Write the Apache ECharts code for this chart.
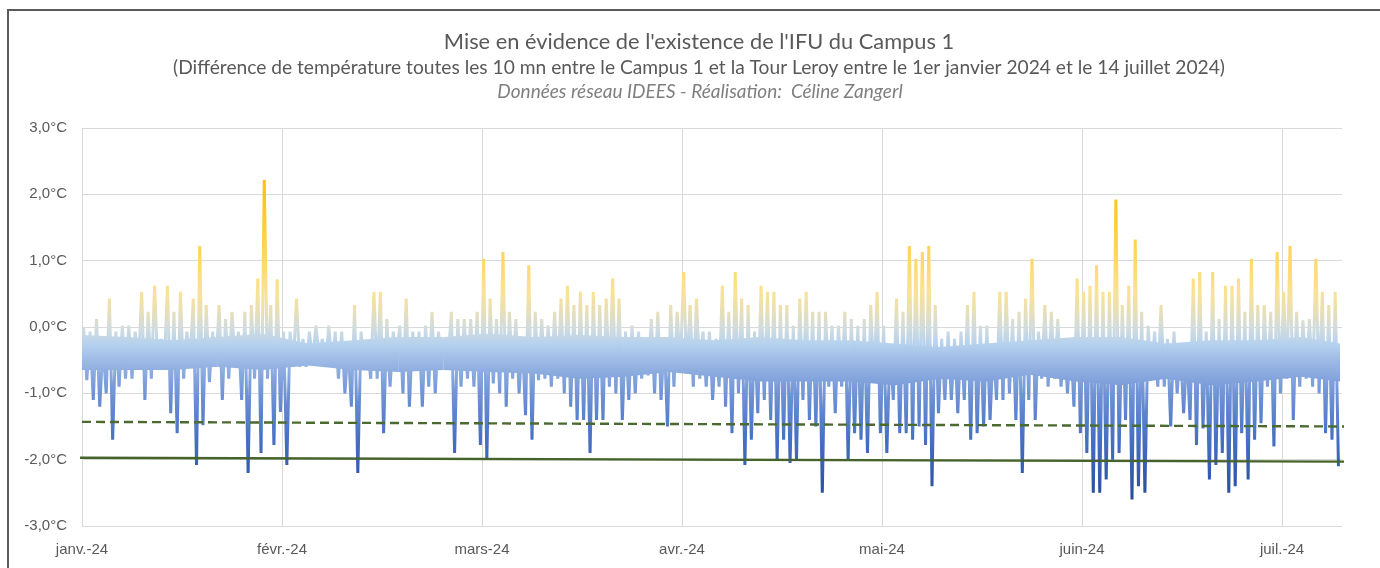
<!DOCTYPE html>
<html>
<head>
<meta charset="utf-8">
<script src="https://cdn.jsdelivr.net/npm/echarts@6/dist/echarts.min.js"></script>
<style>
  html, body { margin: 0; padding: 0; background: #ffffff; }
  #chart { width: 1380px; height: 568px; }
</style>
</head>
<body>
<div id="chart"></div>
<script>
// Month tick labels (one every 31 days from 1 January 2024)
const monthLabels = ['janv.-24', 'févr.-24', 'mars-24', 'avr.-24', 'mai-24', 'juin-24', 'juil.-24'];

// Daily upper envelope of the 10-minute temperature difference (°C), Campus 1 - Tour Leroy
const dayMax = [
  0.00, -0.07, 0.12, -0.28, 0.43, -0.07, 0.02, 0.02, -0.07, 0.53,
  0.23, 0.62, -0.18, 0.62, 0.23, 0.53, -0.07, 0.43, 1.22, 0.33,
  -0.07, 0.33, 0.12, 0.23, -0.07, 0.23, 0.33, 0.73, 2.22, 0.33,
  0.72, -0.07, -0.07, 0.43, -0.18, -0.07, 0.02, -0.18, 0.02, -0.07,
  -0.07, -0.28, 0.33, -0.07, -0.28, 0.53, 0.53, 0.12, -0.07, 0.02,
  0.43, -0.07, -0.07, 0.02, 0.23, -0.07, -0.18, 0.23, 0.12, 0.12,
  0.12, 0.23, 1.03, 0.43, 0.12, 1.13, 0.23, 0.12, -0.18, 0.93,
  0.23, 0.12, 0.02, 0.23, 0.43, 0.62, 0.33, 0.53, 0.33, 0.53,
  0.33, 0.43, 0.73, 0.43, -0.07, 0.02, -0.07, -0.18, 0.12, 0.23,
  -0.18, 0.33, 0.23, 0.83, 0.33, 0.43, -0.07, -0.07, -0.18, 0.62,
  0.23, 0.83, 0.43, 0.33, -0.07, 0.62, 0.53, 0.53, 0.33, 0.33,
  0.02, 0.43, 0.53, 0.23, 0.23, 0.23, 0.02, 0.02, 0.23, 0.12,
  0.02, 0.12, 0.33, 0.53, 0.02, -0.28, 0.43, 0.23, 1.22, 1.03,
  1.13, 1.22, 0.33, -0.18, -0.07, -0.18, -0.07, 0.33, 0.53, 0.02,
  0.02, -0.28, 0.53, 0.53, 0.12, 0.23, 0.43, 1.03, -0.07, 0.33,
  0.23, 0.12, -0.18, -0.18, 0.73, 0.53, 0.62, 0.93, 0.53, 0.53,
  1.92, 0.33, 0.62, 1.32, 0.23, 0.02, -0.07, 0.33, -0.18, -0.07,
  -0.28, -0.38, 0.73, 0.83, -0.07, 0.83, 0.12, 0.62, 0.62, 0.73,
  0.23, 1.03, 0.33, 0.33, 0.23, 1.13, 0.53, 1.22, 0.23, 0.10,
  0.12, 1.03, 0.53, 0.33, 0.53
];

// Daily lower envelope (°C)
const dayMin = [
  -0.80, -1.10, -1.20, -1.00, -1.70, -0.90, -0.78, -0.78, -0.60, -1.10,
  -0.78, -0.60, -0.60, -1.30, -1.60, -0.78, -0.50, -2.08, -1.48, -0.83,
  -0.60, -1.10, -0.78, -0.60, -1.10, -2.20, -0.78, -1.90, -0.78, -1.78,
  -1.28, -2.08, -0.60, -0.60, -0.60, -0.53, -0.43, -0.60, -0.60, -0.78,
  -1.00, -1.20, -2.20, -0.60, -0.78, -0.78, -1.60, -0.90, -0.50, -1.00,
  -1.20, -0.53, -1.20, -0.90, -1.00, -0.53, -0.53, -1.90, -0.90, -0.78,
  -0.90, -1.78, -2.00, -0.85, -1.00, -1.20, -0.78, -1.00, -1.33, -1.70,
  -0.80, -0.78, -0.90, -0.78, -1.00, -1.20, -1.40, -1.40, -1.90, -1.40,
  -1.40, -0.90, -1.00, -1.40, -1.10, -1.00, -0.78, -0.73, -1.00, -1.10,
  -1.50, -0.90, -0.60, -0.70, -0.90, -0.78, -0.90, -1.10, -0.90, -1.20,
  -1.60, -1.00, -2.08, -1.70, -1.30, -1.10, -1.40, -2.00, -1.70, -2.05,
  -2.00, -1.10, -1.40, -1.50, -2.50, -0.90, -1.30, -0.90, -2.00, -1.60,
  -1.70, -1.90, -0.83, -1.60, -1.90, -1.10, -1.60, -1.60, -1.70, -1.50,
  -1.78, -2.40, -1.30, -1.10, -1.10, -1.30, -1.10, -1.70, -1.60, -1.50,
  -1.40, -1.10, -1.10, -1.00, -1.40, -2.20, -1.10, -1.40, -0.78, -0.90,
  -0.78, -0.90, -1.00, -1.20, -1.60, -1.90, -2.50, -2.50, -2.30, -2.00,
  -1.90, -1.40, -2.60, -2.40, -2.50, -0.78, -0.90, -0.90, -1.50, -1.00,
  -1.30, -1.40, -1.78, -1.53, -2.30, -2.08, -1.90, -2.50, -2.40, -1.60,
  -2.30, -1.70, -1.45, -0.90, -1.80, -1.00, -0.78, -1.40, -0.90, -0.78,
  -0.90, -1.00, -1.60, -1.70, -2.10
];

// Dense core of the signal (where the 10-minute values overlap), read weekly (°C)
const coreDays   = [0, 7, 14, 21, 28, 35, 42, 49, 56, 63, 70, 77, 84, 91, 98, 105, 112, 119, 126, 133, 140, 147, 154, 161, 168, 175, 182, 189, 195];
const coreTop    = [-0.12, -0.15, -0.20, -0.15, -0.10, -0.25, -0.20, -0.15, -0.15, -0.10, -0.15, -0.12, -0.15, -0.15, -0.20, -0.15, -0.20, -0.20, -0.25, -0.30, -0.25, -0.20, -0.15, -0.15, -0.25, -0.20, -0.20, -0.15, -0.25];
const coreBottom = [-0.65, -0.65, -0.65, -0.60, -0.65, -0.58, -0.65, -0.68, -0.65, -0.68, -0.70, -0.78, -0.75, -0.68, -0.75, -0.82, -0.82, -0.82, -0.88, -0.78, -0.82, -0.72, -0.82, -0.88, -0.78, -0.88, -0.82, -0.75, -0.82];

// Reference lines: start and end values (°C)
const dashedLine = [-1.43, -1.50];
const solidLine = [-1.97, -2.03];

// Colour ramp along the temperature axis, one stop every 0.25 °C from -3 (first) to +3 (last)
const rampColors = [
  '#1e3c78', '#24468a', '#2b509c', '#335aaa', '#3b63b6', '#456dc0', '#5079c8',
  '#5f86cf', '#7194d6', '#86a6dd', '#9dbbe5', '#b7d2ee', '#d2dcdc', '#e9dfb4',
  '#f8e29a', '#ffdd80', '#ffd866', '#ffd352', '#ffcd3c', '#ffc82a', '#ffc41a',
  '#ffc00c', '#ffbf00', '#ffbf00', '#ffbf00'
];

const gridTop = 128, gridBottom = 42, chartH = 568;

// Vertical gradient fixed to the plot area, so colour depends only on the temperature
function rampGradient() {
  const n = rampColors.length;
  const stops = rampColors.map(function (c, i) { return { offset: 1 - i / (n - 1), color: c }; }).reverse();
  return new echarts.graphic.LinearGradient(0, gridTop, 0, chartH - gridBottom, stops, true);
}

const zigzag = [];
for (let d = 0; d < dayMax.length; d++) {
  zigzag.push([d + 0.25, dayMax[d]]);
  zigzag.push([d + 0.75, dayMin[d]]);
}

const coreSegments = [];
for (let i = 0; i < coreDays.length - 1; i++) {
  coreSegments.push([coreDays[i], coreTop[i], coreBottom[i], coreDays[i + 1], coreTop[i + 1], coreBottom[i + 1]]);
}

const chart = echarts.init(document.getElementById('chart'), null, { renderer: 'canvas' });
const textColor = '#595959';
const fontFam = '"Liberation Sans", Arial, sans-serif';
const titleFam = 'Lato, "Liberation Sans", sans-serif';

chart.setOption({
  animation: false,
  backgroundColor: '#ffffff',
  graphic: [
    {
      type: 'rect',
      shape: { x: 8, y: 10, width: 1400, height: 600 },
      style: { fill: null, stroke: '#5a5a5a', lineWidth: 2 },
      silent: true
    },
    {
      type: 'text', x: 699, y: 42, silent: true,
      style: {
        text: "Mise en évidence de l'existence de l'IFU du Campus 1",
        align: 'center', verticalAlign: 'middle',
        font: 'normal 21.8px ' + titleFam, fill: textColor
      }
    },
    {
      type: 'text', x: 699, y: 68, silent: true,
      style: {
        text: '(Différence de température toutes les 10 mn entre le Campus 1 et la Tour Leroy entre le 1er janvier 2024 et le 14 juillet 2024)',
        align: 'center', verticalAlign: 'middle',
        font: 'normal 19.2px ' + titleFam, fill: textColor
      }
    },
    {
      type: 'text', x: 700, y: 92, silent: true,
      style: {
        text: 'Données réseau IDEES - Réalisation:  Céline Zangerl',
        align: 'center', verticalAlign: 'middle',
        font: 'italic normal 19px ' + titleFam, fill: '#7f7f7f'
      }
    }
  ],
  grid: { left: 82, right: 38, top: gridTop, bottom: gridBottom, containLabel: false },
  xAxis: {
    type: 'value',
    min: 0,
    max: 195.3,
    interval: 31,
    axisLine: { show: false },
    axisTick: { show: false },
    axisLabel: {
      color: textColor, fontFamily: fontFam, fontSize: 15, margin: 16,
      showMaxLabel: false,
      formatter: function (v) {
        const i = Math.round(v / 31);
        return (Math.abs(v - i * 31) < 1e-6 && monthLabels[i]) ? monthLabels[i] : '';
      }
    },
    splitLine: { show: true, showMaxLine: false, lineStyle: { color: '#d9d9d9', width: 1 } }
  },
  yAxis: {
    type: 'value',
    min: -3,
    max: 3,
    interval: 1,
    axisLine: { show: false },
    axisTick: { show: false },
    axisLabel: {
      color: textColor, fontFamily: fontFam, fontSize: 15, margin: 15,
      formatter: function (v) { return v.toFixed(1).replace('.', ',') + '°C'; }
    },
    splitLine: { show: true, lineStyle: { color: '#d9d9d9', width: 1 } }
  },
  series: [
    {
      name: 'Cœur du signal',
      type: 'custom',
      data: coreSegments,
      clip: true,
      z: 1,
      renderItem: function (params, api) {
        const a = api.coord([api.value(0), api.value(1)]);
        const b = api.coord([api.value(3), api.value(4)]);
        const c = api.coord([api.value(3), api.value(5)]);
        const e = api.coord([api.value(0), api.value(2)]);
        return {
          type: 'polygon',
          shape: { points: [a, b, c, e] },
          style: { fill: rampGradient(), stroke: null }
        };
      }
    },
    {
      name: 'Écart de température',
      type: 'line',
      data: zigzag,
      showSymbol: false,
      symbol: 'none',
      sampling: null,
      lineStyle: { width: 3, join: 'bevel', cap: 'butt', color: rampGradient() },
      z: 2
    },
    {
      name: 'Seuil tirets',
      type: 'line',
      data: [[0, dashedLine[0]], [196.8, dashedLine[1]]],
      clip: false,
      symbol: 'none',
      lineStyle: { color: '#4b6a2f', width: 2.4, type: [9, 5] },
      z: 3
    },
    {
      name: 'Seuil continu',
      type: 'line',
      data: [[-0.3, solidLine[0]], [196.2, solidLine[1]]],
      clip: false,
      symbol: 'none',
      lineStyle: { color: '#45632a', width: 2.4 },
      z: 3
    }
  ]
});
</script>
</body>
</html>
